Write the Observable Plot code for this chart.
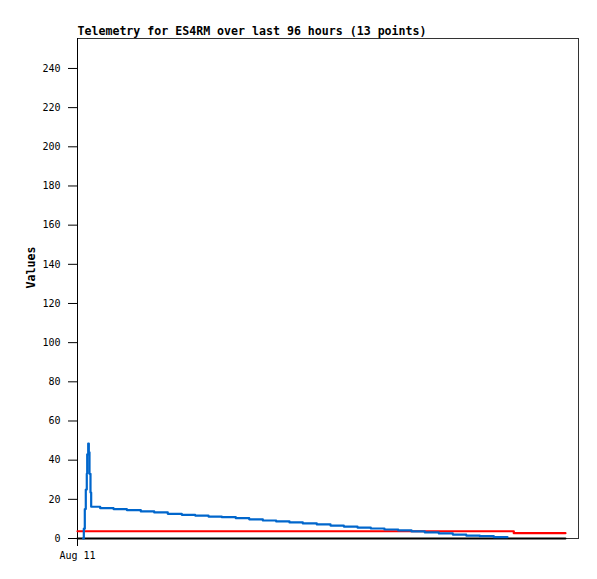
<!DOCTYPE html>
<html>
<head>
<meta charset="utf-8">
<script src="https://cdn.jsdelivr.net/npm/d3@7"></script>
<script src="https://cdn.jsdelivr.net/npm/@observablehq/plot@0.6"></script>
<style>
  html, body { margin: 0; padding: 0; background: #fff; }
  #chart svg { display: block; }
</style>
</head>
<body>
<div id="chart"></div>
<script>
// Hours after Aug 11 00:00 UTC, and values
const titleText = "Telemetry for ES4RM over last 96 hours (13 points)";
const yLabel = "Values";
const xTickLabel = "Aug 11";
const startDate = Date.UTC(2024, 7, 11, 0, 0);
const spanHours = 96;

const blueHours = [1.09, 1.21, 1.40, 1.59, 1.78, 1.86, 2.05, 2.17, 2.30, 2.49, 2.62,
  4.35, 6.90, 9.45, 12.13, 14.70, 17.30, 19.98, 22.55, 25.10, 27.65, 30.33, 32.90,
  35.51, 38.07, 40.62, 43.17, 45.85, 48.48, 51.03, 53.65, 56.20, 58.82, 61.45,
  64.00, 66.55, 69.23, 71.91, 74.48, 77.08, 79.77, 82.39];
const blueValues = [0, 5, 15, 25, 33, 43, 48.5, 44, 33, 23.5, 16.2,
  15.5, 15.0, 14.5, 13.8, 13.3, 12.6, 12.1, 11.7, 11.2, 10.9, 10.4, 9.8,
  9.2, 8.7, 8.2, 7.7, 7.2, 6.6, 6.1, 5.6, 5.1, 4.6, 4.1,
  3.6, 3.1, 2.6, 2.0, 1.5, 1.2, 0.7, 0.7];

const redHours = [0, 83.6, 93.5];
const redValues = [3.7, 2.7, 2.7];

const blackHours = [0, 93.5];
const blackValues = [0, 0];

const yTicks = [0, 20, 40, 60, 80, 100, 120, 140, 160, 180, 200, 220, 240];

const toDate = h => new Date(startDate + h * 3600e3);
const mk = (hs, vs) => hs.map((h, i) => ({t: toDate(h), v: vs[i]}));
const blue = mk(blueHours, blueValues);
const red = mk(redHours, redValues);
const black = mk(blackHours, blackValues);

const mono = "'DejaVu Sans Mono', 'Liberation Mono', monospace";

const chart = Plot.plot({
  width: 597,
  height: 579,
  marginLeft: 77,
  marginRight: 19,
  marginTop: 38,
  marginBottom: 41,
  style: {fontFamily: mono, fontSize: "10px", color: "#000", background: "#fff"},
  x: {
    type: "utc",
    domain: [toDate(0), toDate(spanHours)],
    ticks: [toDate(0)],
    tickFormat: () => xTickLabel,
    tickSize: 8,
    tickPadding: 5,
    label: null
  },
  y: {
    domain: [0, 255.3],
    ticks: yTicks,
    tickSize: 9,
    tickPadding: 8,
    label: null
  },
  marks: [
    Plot.frame({stroke: "#333", strokeWidth: 1}),
    Plot.axisY({ticks: yTicks, tickSize: 9, tickPadding: 8, label: null, stroke: "#000"}),
    Plot.axisX({ticks: [toDate(0)], tickFormat: () => xTickLabel, tickSize: 8, tickPadding: 5, label: null, stroke: "#000"}),
    Plot.ruleX([toDate(0)], {stroke: "#000"}),
    Plot.lineY(black, {x: "t", y: "v", stroke: "#000", strokeWidth: 2, curve: "step-after"}),
    Plot.lineY(red, {x: "t", y: "v", stroke: "#ff0000", strokeWidth: 2.2, curve: "step-after"}),
    Plot.lineY(blue, {x: "t", y: "v", stroke: "#0066cc", strokeWidth: 2.2, curve: "step-after"}),
    Plot.text([titleText], {frameAnchor: "top-left", dy: -4, lineAnchor: "bottom", textAnchor: "start",
      fontWeight: "bold", fontSize: 11.6, fill: "#000"}),
    Plot.text([yLabel], {frameAnchor: "left", dx: -46, rotate: -90, fontWeight: "bold", fontSize: 11.6, fill: "#000"})
  ]
});
document.getElementById("chart").appendChild(chart);
</script>
</body>
</html>
